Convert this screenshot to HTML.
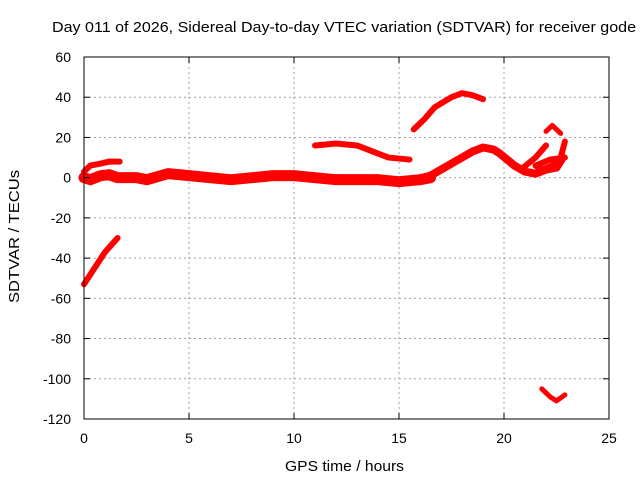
<!DOCTYPE html>
<html><head><meta charset="utf-8"><style>
body{margin:0;background:#fff;}
svg{display:block;font-family:"Liberation Sans",sans-serif;}
</style></head><body>
<svg id="chart" width="640" height="480">
<text x="52" y="32" font-size="15" textLength="584" lengthAdjust="spacingAndGlyphs">Day 011 of 2026, Sidereal Day-to-day VTEC variation (SDTVAR) for receiver gode</text>
<g id="grid"></g>
<g id="series"></g>
<rect x="84" y="57" width="525" height="362" fill="none" stroke="#000" stroke-width="1"/>
<g id="ticks"></g>
<text x="285" y="471" font-size="15" textLength="119" lengthAdjust="spacingAndGlyphs">GPS time / hours</text>
<text transform="translate(19,303) rotate(-90)" font-size="15" textLength="133" lengthAdjust="spacingAndGlyphs">SDTVAR / TECUs</text>
</svg>
<script>
const xTicks=[0,5,10,15,20,25];
const yTicks=[60,40,20,0,-20,-40,-60,-80,-100,-120];
const mainBand=[[0,0],[0.3,-1],[0.8,1],[1.2,1.5],[1.6,0],[2.5,0],[3,-1],[4,2],[5,1],[6,0],[7,-1],[8,0],[9,1],[10,1],[11,0],[12,-1],[13,-1],[14,-1],[15,-2],[16,-1],[16.5,0]];
const rising=[[15.8,-1],[16.5,1],[17,4],[17.5,7],[18,10],[18.5,13],[19,15],[19.5,14],[19.8,12],[20.5,6],[21,3],[21.5,2],[22,4],[22.5,5],[22.8,10]];
const upperShort=[[0,3],[0.3,6],[0.8,7],[1.2,8],[1.7,8]];
const steep=[[0,-53],[0.5,-45],[1,-37],[1.6,-30]];
const arcMid=[[11,16],[12,17],[13,16],[14,12],[14.5,10],[15.5,9]];
const arcHigh=[[15.7,24],[16.2,29],[16.7,35],[17.5,40],[18,42],[18.5,41],[19,39]];
const lowRight=[[21.8,-105],[22.2,-109],[22.5,-111],[22.9,-108]];
const peakRight=[[22,23],[22.3,26],[22.7,22]];
const riseRight=[[20.8,4],[21.5,10],[22,16]];
const loopRight=[[22.9,18],[22.7,10],[22.3,6],[21.8,4],[21.5,6],[22.2,9],[22.9,10]];
const allSeries=[[mainBand,11,'main-band'],[rising,8,'rising-trace'],[upperShort,6,'upper-short-trace'],[steep,6,'steep-trace'],[arcMid,6,'mid-arc-trace'],[arcHigh,6,'high-arc-trace'],[lowRight,5,'low-right-trace'],[peakRight,5,'peak-right-trace'],[riseRight,6,'rise-right-trace'],[loopRight,6,'loop-right-trace']];
const X=h=>84+h*21, Y=v=>57+(60-v)*362/180;
const NS='http://www.w3.org/2000/svg';
const grid=document.getElementById('grid'),ticks=document.getElementById('ticks'),ser=document.getElementById('series');
function mk(tag,attrs,parent){const e=document.createElementNS(NS,tag);for(const k in attrs)e.setAttribute(k,attrs[k]);parent.appendChild(e);return e;}
xTicks.forEach(t=>{
 if(t>0&&t<25){const g=mk('line',{x1:X(t),x2:X(t),y1:57,y2:419,stroke:'#a0a0a0','stroke-dasharray':'2,3'},grid);
 
 }
 const l=mk('text',{x:X(t),y:443,'font-size':14,'text-anchor':'middle'},ticks);l.textContent=t;
 
 
 mk('line',{x1:X(t),x2:X(t),y1:419,y2:413,stroke:'#000'},ticks);
 mk('line',{x1:X(t),x2:X(t),y1:57,y2:63,stroke:'#000'},ticks);
});
yTicks.forEach(t=>{
 if(t<60&&t>-120){const g=mk('line',{x1:84,x2:609,y1:Y(t),y2:Y(t),stroke:'#a0a0a0','stroke-dasharray':'2,3'},grid);
 
 }
 const l=mk('text',{x:71,y:Y(t)+5,'font-size':14,'text-anchor':'end'},ticks);l.textContent=t;
 
 
 mk('line',{x1:84,x2:90,y1:Y(t),y2:Y(t),stroke:'#000'},ticks);
 mk('line',{x1:603,x2:609,y1:Y(t),y2:Y(t),stroke:'#000'},ticks);
});
allSeries.forEach(s=>{
 const p=mk('polyline',{points:s[0].map(d=>X(d[0])+','+Y(d[1])).join(' '),fill:'none',stroke:'#f00','stroke-width':s[1],'stroke-linejoin':'round','stroke-linecap':'round'},ser);
 
 
});
</script>
</body></html>
